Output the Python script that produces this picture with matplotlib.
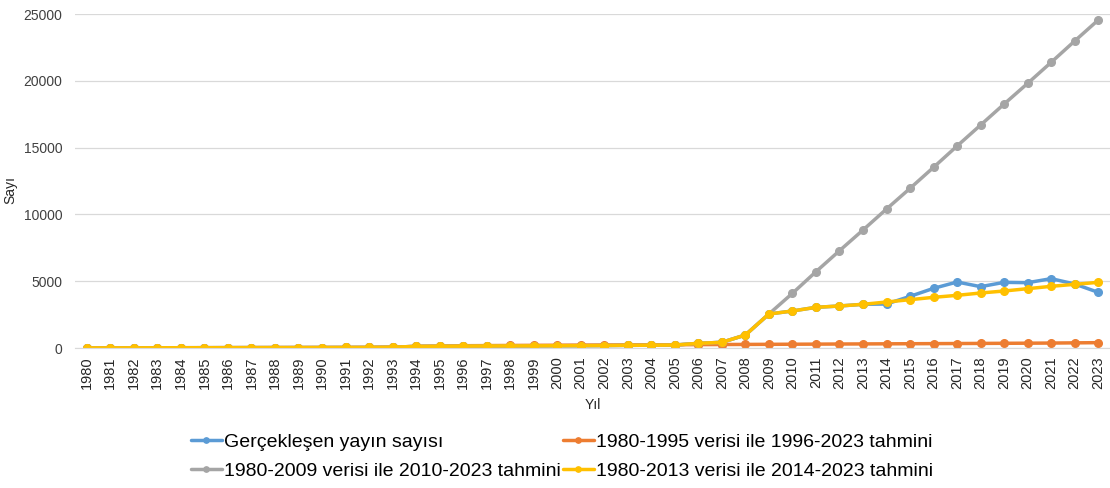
import matplotlib
matplotlib.use("Agg")
import matplotlib.pyplot as plt
import numpy as np

plt.rcParams['font.family'] = ['Liberation Sans', 'DejaVu Sans']

years = [str(y) for y in range(1980, 2024)]

actual = [5, 8, 10, 15, 20, 22, 25, 28, 30, 32, 35, 38, 42, 60, 120, 130, 140, 150,
          155, 160, 170, 175, 185, 200, 210, 220, 350, 425, 973, 2545, 2770, 3045,
          3144, 3270, 3293, 3867, 4466, 4940, 4591, 4915, 4890, 5190, 4790, 4166]

pred_1995 = [5, 8, 10, 15, 20, 22, 25, 28, 30, 32, 35, 38, 42, 60, 120, 130,
             170, 180, 190, 200, 208, 215, 222, 230, 238, 245, 252, 260, 268, 275,
             283, 290, 298, 305, 313, 320, 328, 335, 343, 352, 360, 370, 385, 400]

pred_2009 = actual[:30] + [4094, 5711, 7283, 8832, 10404, 11950, 13525, 15120,
                           16690, 18263, 19810, 21385, 22980, 24550]

pred_2013 = actual[:34] + [3443, 3617, 3792, 3942, 4117, 4266, 4441, 4616, 4766, 4915]

labels = ["Gerçekleşen yayın sayısı",
          "1980-1995 verisi ile 1996-2023 tahmini",
          "1980-2009 verisi ile 2010-2023 tahmini",
          "1980-2013 verisi ile 2014-2023 tahmini"]
colors = ["#5B9BD5", "#ED7D31", "#A5A5A5", "#FFC000"]
series = [actual, pred_1995, pred_2009, pred_2013]

fig = plt.figure(figsize=(11.1, 4.88), dpi=100)
ax = fig.add_axes([75/1110, 1-348/488, 1035/1110, (348-14)/488])

x = np.arange(len(years))
handles = []
for s, c, l in zip(series, colors, labels):
    h, = ax.plot(x, s, color=c, lw=2.5, marker='o', markersize=5.5, label=l,
                 solid_capstyle='round')
    handles.append(h)

ax.set_xlim(-0.5, len(years) - 0.5)
ax.set_ylim(0, 25000)
ax.set_yticks(range(0, 25001, 5000))
ax.yaxis.grid(True, color='#D9D9D9', lw=0.9)
ax.set_axisbelow(True)
for sp in ['top', 'right', 'left']:
    ax.spines[sp].set_visible(False)
ax.spines['bottom'].set_color('#D9D9D9')
ax.set_xticks(x)
ax.set_xticklabels(years, rotation=90, fontsize=10.5, color='#262626')
ax.tick_params(axis='x', length=0, pad=6)
ax.tick_params(axis='y', length=0, labelsize=10, pad=9, labelcolor='#404040')
ax.set_ylabel("Sayı", fontsize=10, color='#262626')
ax.yaxis.set_label_coords(-0.056, 0.473)
ax.set_xlabel("Yıl", fontsize=10, labelpad=6, color='#262626')

order = [0, 2, 1, 3]
fig.legend([handles[i] for i in order], [labels[i] for i in order],
           loc='lower center', bbox_to_anchor=(0.506, -0.02),
           ncol=2, frameon=False, fontsize=14, handlelength=1.6,
           handletextpad=0.1, columnspacing=0.1, labelspacing=0.6,
           markerscale=0.7)

fig.savefig("out.png", dpi=100)
